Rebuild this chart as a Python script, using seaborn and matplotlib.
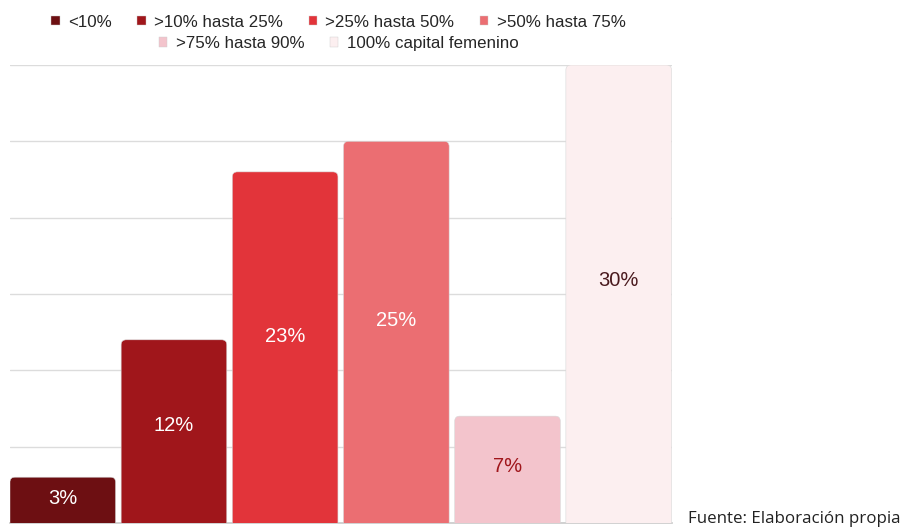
import matplotlib
matplotlib.use("Agg")
import matplotlib.pyplot as plt
from matplotlib.patches import FancyBboxPatch, Patch
import pandas as pd
import seaborn as sns

categorias = ["<10%", ">10% hasta 25%", ">25% hasta 50%", ">50% hasta 75%",
              ">75% hasta 90%", "100% capital femenino"]
valores = [3, 12, 23, 25, 7, 30]
colores = ["#6D0F12", "#A0161B", "#E2343A", "#EB6E72", "#F3C4CC", "#FCEFF0"]
color_texto = ["white", "white", "white", "white", "#A0161B", "#4A1A1E"]

df = pd.DataFrame({"categoria": categorias, "valor": valores})

sns.set_theme(style="white")
plt.rcParams["font.family"] = ["Liberation Sans", "DejaVu Sans"]

fig = plt.figure(figsize=(9.05, 5.27), dpi=100)
ax = fig.add_axes([0.011, 0.0076, 0.731, 0.869])

sns.barplot(data=df, x="categoria", y="valor", hue="categoria",
            palette=colores, width=0.95, legend=False, ax=ax, zorder=3)

# redondear esquinas superiores
aspecto = 7.3
r = 0.045
for bar, col in zip(list(ax.patches), colores):
    x, w, h = bar.get_x(), bar.get_width(), bar.get_height()
    bar.set_visible(False)
    py = r * aspecto
    fb = FancyBboxPatch((x + r, -2 + py), w - 2 * r, h + 2 - 2 * py,
                        boxstyle=f"round,pad={r},rounding_size={r}",
                        mutation_aspect=aspecto, facecolor=col,
                        edgecolor="#d8d8d8", linewidth=0.4, zorder=3)
    ax.add_patch(fb)

for i, (v, tc) in enumerate(zip(valores, color_texto)):
    ax.text(i, v * 0.53, f"{v}%", ha="center", va="center",
            color=tc, fontsize=14.5, zorder=4)

ax.set_ylim(0, 30)
ax.set_xlim(-0.475, 5.475)
ax.set_yticks(range(0, 31, 5))
ax.yaxis.grid(True, color="#dcdcdc", linewidth=1, zorder=0)
ax.set_axisbelow(True)
ax.set_xticks([])
ax.set_yticklabels([])
ax.tick_params(left=False, right=False, bottom=False)
ax.set_xlabel("")
ax.set_ylabel("")
for s in ["top", "right", "left"]:
    ax.spines[s].set_visible(False)
ax.spines["bottom"].set_color("#cccccc")

handles = [Patch(facecolor=c, edgecolor="#cccccc", linewidth=0.3) for c in colores]
leg_kw = dict(frameon=False, fontsize=12.2, handlelength=0.5, handleheight=0.5,
              handletextpad=0.5, columnspacing=1.5, borderaxespad=0)
leg1 = fig.legend(handles[:4], categorias[:4], ncol=4, loc="center",
                  bbox_to_anchor=(0.374, 0.958), **leg_kw)
leg2 = fig.legend(handles[4:], categorias[4:], ncol=2, loc="center",
                  bbox_to_anchor=(0.374, 0.917), **leg_kw)

fig.text(0.995, 0.016, "Fuente: Elaboración propia", ha="right", va="center",
         fontsize=12.2, family=["Open Sans", "DejaVu Sans"], color="#222222")

fig.savefig("out.png", dpi=100)
